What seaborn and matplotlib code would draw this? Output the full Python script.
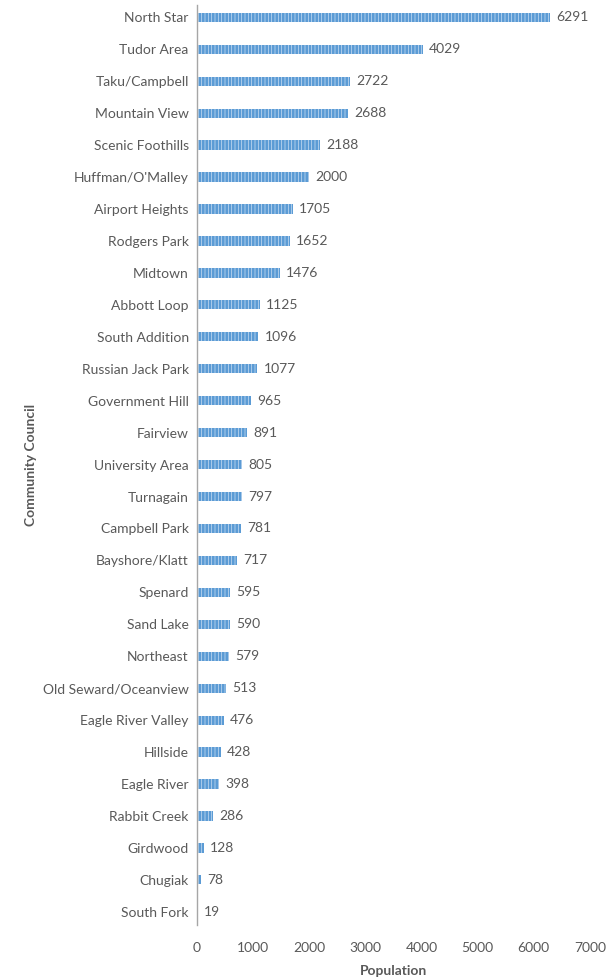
import seaborn as sns
import matplotlib.pyplot as plt
import pandas as pd

councils = [
    "North Star", "Tudor Area", "Taku/Campbell", "Mountain View", "Scenic Foothills",
    "Huffman/O'Malley", "Airport Heights", "Rodgers Park", "Midtown", "Abbott Loop",
    "South Addition", "Russian Jack Park", "Government Hill", "Fairview", "University Area",
    "Turnagain", "Campbell Park", "Bayshore/Klatt", "Spenard", "Sand Lake",
    "Northeast", "Old Seward/Oceanview", "Eagle River Valley", "Hillside", "Eagle River",
    "Rabbit Creek", "Girdwood", "Chugiak", "South Fork",
]
population = [
    6291, 4029, 2722, 2688, 2188,
    2000, 1705, 1652, 1476, 1125,
    1096, 1077, 965, 891, 805,
    797, 781, 717, 595, 590,
    579, 513, 476, 428, 398,
    286, 128, 78, 19,
]
x_ticks = [0, 1000, 2000, 3000, 4000, 5000, 6000, 7000]

df = pd.DataFrame({"Community Council": councils, "Population": population})

sns.set_style("white")
plt.rcParams["font.family"] = ["Lato", "DejaVu Sans"]
plt.rcParams["hatch.linewidth"] = 0.5

text_grey = "#595959"

fig = plt.figure(figsize=(6.08, 9.77), dpi=100)
ax = fig.add_axes([0.324, 0.053, 0.646, 0.942])

sns.barplot(data=df, x="Population", y="Community Council", color="#5B9BD5",
            saturation=1, width=0.29, ax=ax)

for bar in ax.patches:
    bar.set_hatch("|||||")
    bar.set_edgecolor("#cde0f3")
    bar.set_linewidth(0)

for bar, val in zip(ax.patches, population):
    ax.text(bar.get_width() + 110, bar.get_y() + bar.get_height() / 2, str(val),
            va="center", ha="left", fontsize=10, color=text_grey)

ax.set_xlim(0, 7000)
ax.set_ylim(len(councils) - 1 + 0.42, -0.39)
ax.set_xticks(x_ticks)
ax.tick_params(axis="both", length=0, labelsize=10, colors=text_grey)
ax.tick_params(axis="x", pad=12)
ax.tick_params(axis="y", pad=6)

for side in ["top", "right", "bottom"]:
    ax.spines[side].set_visible(False)
ax.spines["left"].set_color("#a6a6a6")
ax.spines["left"].set_linewidth(1)

ax.set_xlabel("Population", fontsize=10, fontweight="bold", color=text_grey, labelpad=8)
ax.set_ylabel("Community Council", fontsize=10, fontweight="bold", color=text_grey, labelpad=4)

plt.savefig("out.png", dpi=100)
